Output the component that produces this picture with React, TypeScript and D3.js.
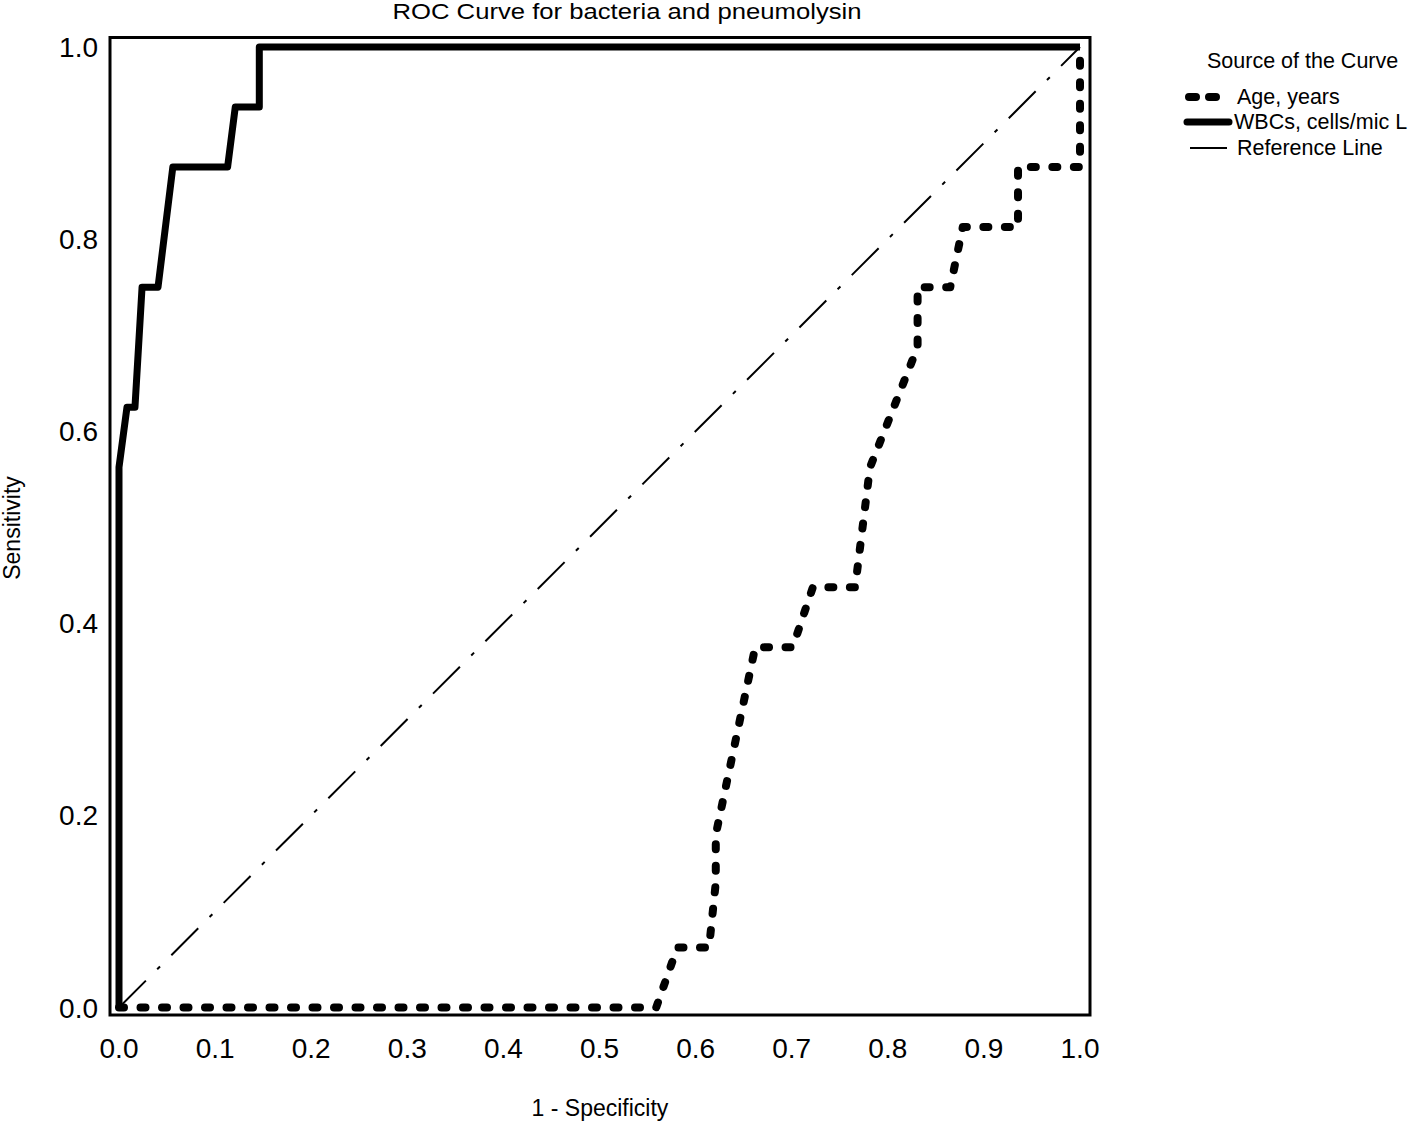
import React from "react";
import * as d3 from "d3";

// ROC points (1 - specificity, sensitivity)
const wbcFpr = [0, 0, 0.0083, 0.0166, 0.024, 0.0406, 0.056, 0.113, 0.121, 0.146, 0.146, 1];
const wbcTpr = [0, 0.5625, 0.625, 0.625, 0.75, 0.75, 0.875, 0.875, 0.9375, 0.9375, 1, 1];

const ageFpr = [0, 0.559, 0.581, 0.614, 0.621, 0.621, 0.662, 0.701, 0.722, 0.766, 0.7815, 0.831, 0.831, 0.865, 0.878, 0.9355, 0.9355, 1, 1];
const ageTpr = [0, 0, 0.0625, 0.0625, 0.13, 0.18, 0.375, 0.375, 0.4375, 0.4375, 0.5625, 0.6875, 0.75, 0.75, 0.8125, 0.8125, 0.875, 0.875, 1];

const refLine = [0, 1];

const ticks = [0, 0.1, 0.2, 0.3, 0.4, 0.5, 0.6, 0.7, 0.8, 0.9, 1.0];
const yTicks = [0, 0.2, 0.4, 0.6, 0.8, 1.0];

const legendLabels = ["Age, years", "WBCs, cells/mic L", "Reference Line"];

const W = 1418;
const H = 1122;
const font = "'Liberation Sans', Arial, Helvetica, sans-serif";

export default function App() {
  const x = d3.scaleLinear().domain([0, 1]).range([119, 1080]);
  const y = d3.scaleLinear().domain([0, 1]).range([1007.5, 47]);

  const line = d3
    .line<[number, number]>()
    .x((d) => x(d[0]))
    .y((d) => y(d[1]));

  const wbc = line(wbcFpr.map((v, i) => [v, wbcTpr[i]]) as [number, number][]);
  const age = line(ageFpr.map((v, i) => [v, ageTpr[i]]) as [number, number][]);
  const ref = line(refLine.map((v) => [v, v]) as [number, number][]);

  const lx = 1185;
  const ly = [97, 122, 148];

  return (
    <svg
      width={W}
      height={H}
      style={{ position: "absolute", left: 0, top: 0, background: "#fff" }}
      fontFamily={font}
    >
      <rect width={W} height={H} fill="#fff" />
      <text x={627} y={19} textAnchor="middle" fontSize={22} textLength={469} lengthAdjust="spacingAndGlyphs">
        ROC Curve for bacteria and pneumolysin
      </text>

      <rect x={110} y={37.5} width={980} height={977.5} fill="none" stroke="#000" strokeWidth={3} />

      {ticks.map((t) => (
        <text key={"x" + t} x={x(t)} y={1058} textAnchor="middle" fontSize={28}>
          {t.toFixed(1)}
        </text>
      ))}
      {yTicks.map((t) => (
        <text key={"y" + t} x={98} y={y(t) + 10} textAnchor="end" fontSize={28}>
          {t.toFixed(1)}
        </text>
      ))}

      <text x={600} y={1116} textAnchor="middle" fontSize={23}>
        1 - Specificity
      </text>
      <text transform="translate(20,528) rotate(-90)" textAnchor="middle" fontSize={23}>
        Sensitivity
      </text>

      <path d={ref ?? ""} fill="none" stroke="#000" strokeWidth={2} strokeDasharray="38 16 4 16" />
      <path
        d={age ?? ""}
        fill="none"
        stroke="#000"
        strokeWidth={8}
        strokeDasharray="5 16.5"
        strokeLinecap="round"
        strokeLinejoin="round"
      />
      <path d={wbc ?? ""} fill="none" stroke="#000" strokeWidth={7} strokeLinejoin="round" />

      <text x={1207} y={68} fontSize={21.5}>
        Source of the Curve
      </text>
      <line x1={lx + 4} x2={lx + 36} y1={ly[0]} y2={ly[0]} stroke="#000" strokeWidth={8} strokeDasharray="7 13" strokeLinecap="round" />
      <line x1={lx + 2} x2={lx + 44} y1={ly[1]} y2={ly[1]} stroke="#000" strokeWidth={7} strokeLinecap="round" />
      <line x1={lx + 5} x2={lx + 42} y1={ly[2]} y2={ly[2]} stroke="#000" strokeWidth={2} />
      {legendLabels.map((s, i) => (
        <text key={s} x={i === 1 ? 1234 : 1237} y={ly[i] + 7} fontSize={21.5}>
          {s}
        </text>
      ))}
    </svg>
  );
}
